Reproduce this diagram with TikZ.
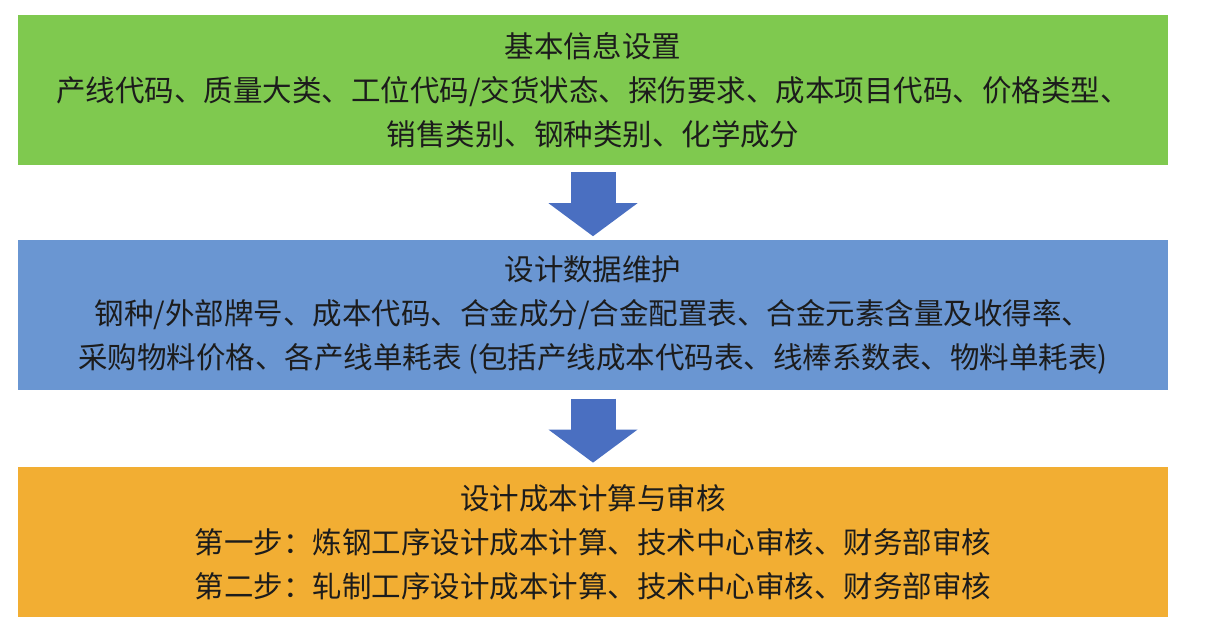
\documentclass[tikz,border=0pt]{standalone}
\usepackage{fontspec}
\newfontfamily\cjk{Noto Sans CJK SC}
\usetikzlibrary{positioning,arrows.meta}
\definecolor{boxgreen}{HTML}{7FC94F}
\definecolor{boxblue}{HTML}{6A96D2}
\definecolor{boxorange}{HTML}{F2AE33}
\definecolor{arrowblue}{HTML}{4A6FC1}
\definecolor{textdark}{HTML}{1C1C1C}
\tikzset{
	infobox/.style={minimum width=1150pt, minimum height=150pt, inner sep=0pt, align=center, text=textdark, font=\cjk\fontsize{29.5}{44}\selectfont},
	flowarrow/.style={arrowblue, line width=45pt, -{Triangle[length=33pt, width=89pt, line width=0pt]}}
}
\begin{document}
\begin{tikzpicture}
				\useasboundingbox (0,0) rectangle (1213pt,-641pt);
				\node[infobox, fill=boxgreen] (info) at (593pt,-90pt) {基本信息设置\\产线代码、质量大类、工位代码/交货状态、探伤要求、成本项目代码、价格类型、\\销售类别、钢种类别、化学成分};
				\node[infobox, fill=boxblue, below=75pt of info] (data) {设计数据维护\\钢种/外部牌号、成本代码、合金成分/合金配置表、合金元素含量及收得率、\\采购物料价格、各产线单耗表 (包括产线成本代码表、线棒系数表、物料单耗表)};
				\node[infobox, fill=boxorange, below=76pt of data] (cost) {设计成本计算与审核\\第一步：炼钢工序设计成本计算、技术中心审核、财务部审核\\第二步：轧制工序设计成本计算、技术中心审核、财务部审核};
				\draw[flowarrow] ([yshift=-7pt]info.south) -- ([yshift=4pt]data.north);
				\draw[flowarrow] ([yshift=-8pt]data.south) -- ([yshift=4pt]cost.north);
			\end{tikzpicture}
\end{document}
